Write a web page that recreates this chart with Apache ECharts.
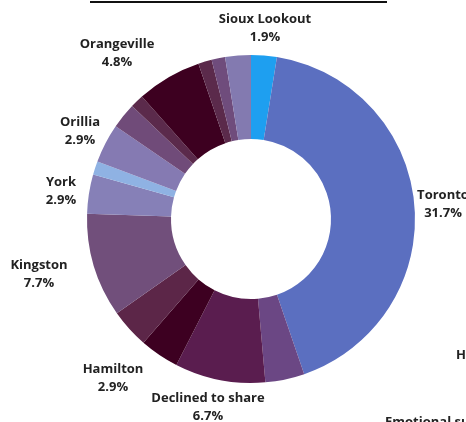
<!DOCTYPE html>
<html>
<head>
<meta charset="utf-8">
<script src="https://cdn.jsdelivr.net/npm/echarts@6/dist/echarts.min.js"></script>
<style>
  html, body { margin: 0; padding: 0; background: #fff; }
  #chart { width: 466px; height: 422px; }
</style>
</head>
<body>
<div id="chart"></div>
<script>
// clockwise from 12 o'clock, share of respondents (%)
var cities = ['Sioux Lookout', 'Toronto', 'Other A', 'Declined to share', 'Other B', 'Hamilton',
  'Kingston', 'York', 'Other C', 'Orillia', 'Other D', 'Other E', 'Orangeville', 'Other F', 'Other G', 'Other H'];
var shares = [1.9, 31.7, 2.9, 6.7, 2.9, 2.9, 7.7, 2.9, 1.0, 2.9, 1.9, 1.0, 4.8, 1.0, 1.0, 1.9];
var sliceColors = ['#1e9ff0', '#5b6fc0', '#6b4784', '#5a1d4f', '#3d0021', '#5c2648', '#714f7b', '#8680b7',
  '#8fb2e3', '#857ab2', '#704b79', '#5b2a4b', '#3d0020', '#5b2a4b', '#6f4c7c', '#837ab0'];
var labelled = ['Sioux Lookout', 'Toronto', 'Declined to share', 'Hamilton', 'Kingston', 'York', 'Orillia', 'Orangeville'];

// where each label sits (text centre)
var labelSpots = {
  'Sioux Lookout': [265, 28],
  'Toronto': [443, 204],
  'Declined to share': [208, 407],
  'Hamilton': [113, 378],
  'Kingston': [39, 274],
  'York': [61, 191],
  'Orillia': [80, 131],
  'Orangeville': [117, 53]
};

var chart = echarts.init(document.getElementById('chart'));

var pieData = cities.map(function (name, i) {
  return {
    name: name,
    value: shares[i],
    itemStyle: { color: sliceColors[i] },
    label: { show: labelled.indexOf(name) >= 0 }
  };
});

var option = {
  animation: false,
  textStyle: { fontFamily: 'Open Sans' },
  graphic: [
    { type: 'rect', shape: { x: 90, y: 1, width: 297, height: 2 }, style: { fill: '#111' } },
    { type: 'text', left: 456, top: 349, style: { text: 'Health', font: 'bold 13px "Open Sans"', fill: '#222' } },
    { type: 'text', left: 385, top: 416, style: { text: 'Emotional support', font: 'bold 13px "Open Sans"', fill: '#222' } }
  ],
  series: [
    {
      type: 'pie',
      center: [251, 219],
      radius: [80, 164],
      startAngle: 90,
      clockwise: true,
      silent: true,
      avoidLabelOverlap: false,
      itemStyle: { borderWidth: 0 },
      label: {
        position: 'outside',
        formatter: '{b}\n{c}%',
        color: '#222',
        fontFamily: 'Open Sans',
        fontWeight: 'bold',
        fontSize: 13,
        lineHeight: 18,
        align: 'center'
      },
      labelLine: { show: false },
      labelLayout: function (p) {
        var spot = labelSpots[cities[p.dataIndex]];
        if (!spot) return {};
        return { x: spot[0], y: spot[1], align: 'center', verticalAlign: 'middle' };
      },
      data: pieData
    }
  ]
};

chart.setOption(option);
</script>
</body>
</html>
